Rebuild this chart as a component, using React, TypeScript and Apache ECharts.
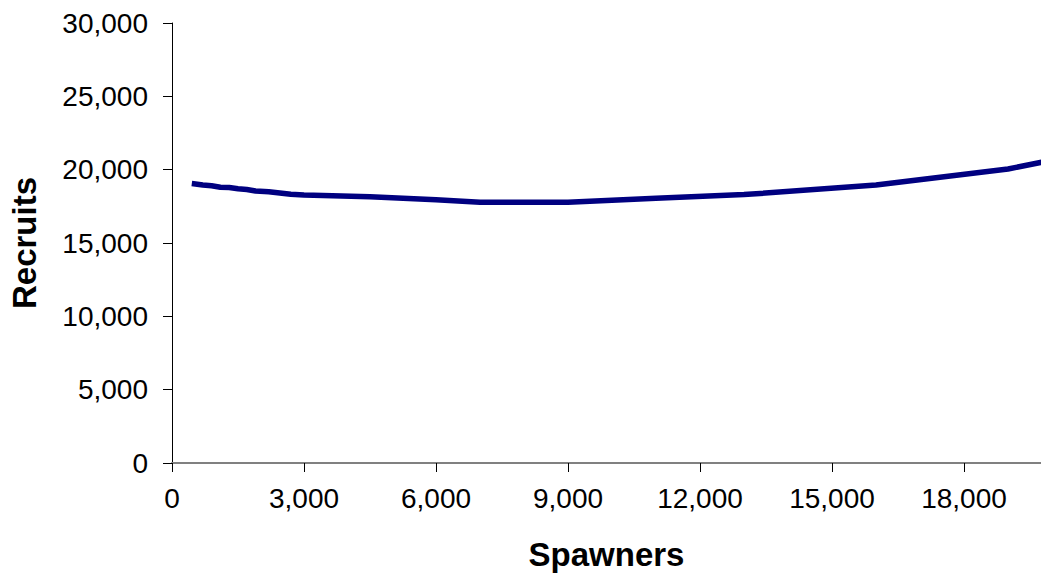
import React, { useEffect, useRef } from "react";
import * as echarts from "echarts";

const spawners = [450, 700, 900, 1100, 1300, 1500, 1700, 1900, 2200, 2700, 3000, 4500, 6000, 7000, 9000, 11000, 13000, 16000, 19000, 20000];
const recruits = [19050, 18950, 18900, 18800, 18780, 18700, 18650, 18550, 18500, 18320, 18280, 18150, 17950, 17780, 17780, 18050, 18300, 18950, 20050, 20650];

const xMin = 0;
const xMax = 19750;
const xStep = 3000;
const yMin = 0;
const yMax = 30000;
const yStep = 5000;

const fmt = (v: number) => v.toLocaleString("en-US");

export default function App() {
  const ref = useRef<HTMLDivElement>(null);
  useEffect(() => {
    if (!ref.current) return;
    const chart = echarts.init(ref.current, null, { renderer: "svg" });
    const font = "Liberation Sans, Arial, sans-serif";
    chart.setOption({
      animation: false,
      backgroundColor: "#ffffff",
      grid: { left: 171, top: 23, right: 0, bottom: 112, containLabel: false },
      xAxis: {
        type: "value",
        min: xMin,
        max: xMax,
        interval: xStep,
        name: "Spawners",
        nameLocation: "middle",
        nameGap: 75,
        nameTextStyle: { fontFamily: font, fontSize: 33, fontWeight: "bold", color: "#000" },
        axisLine: { show: true, lineStyle: { color: "#808080", width: 2 } },
        axisTick: { show: true, length: 9, lineStyle: { color: "#000", width: 1 } },
        axisLabel: { formatter: fmt, fontFamily: font, fontSize: 28, color: "#000", margin: 21, showMaxLabel: false },
        splitLine: { show: false },
      },
      yAxis: {
        type: "value",
        min: yMin,
        max: yMax,
        interval: yStep,
        name: "Recruits",
        nameLocation: "middle",
        nameGap: 131,
        nameTextStyle: { fontFamily: font, fontSize: 33, fontWeight: "bold", color: "#000" },
        axisLine: { show: true, lineStyle: { color: "#000", width: 1 } },
        axisTick: { show: true, length: 9, lineStyle: { color: "#000", width: 1 } },
        axisLabel: { formatter: fmt, fontFamily: font, fontSize: 28, color: "#000", margin: 24 },
        splitLine: { show: false },
      },
      series: [
        {
          type: "line",
          data: spawners.map((s, i) => [s, recruits[i]]),
          showSymbol: false,
          symbol: "none",
          clip: true,
          lineStyle: { color: "#000080", width: 5.5 },
        },
      ],
    });
    return () => chart.dispose();
  }, []);
  return <div ref={ref} style={{ position: "fixed", left: 0, top: 0, width: 1041, height: 576 }} />;
}
